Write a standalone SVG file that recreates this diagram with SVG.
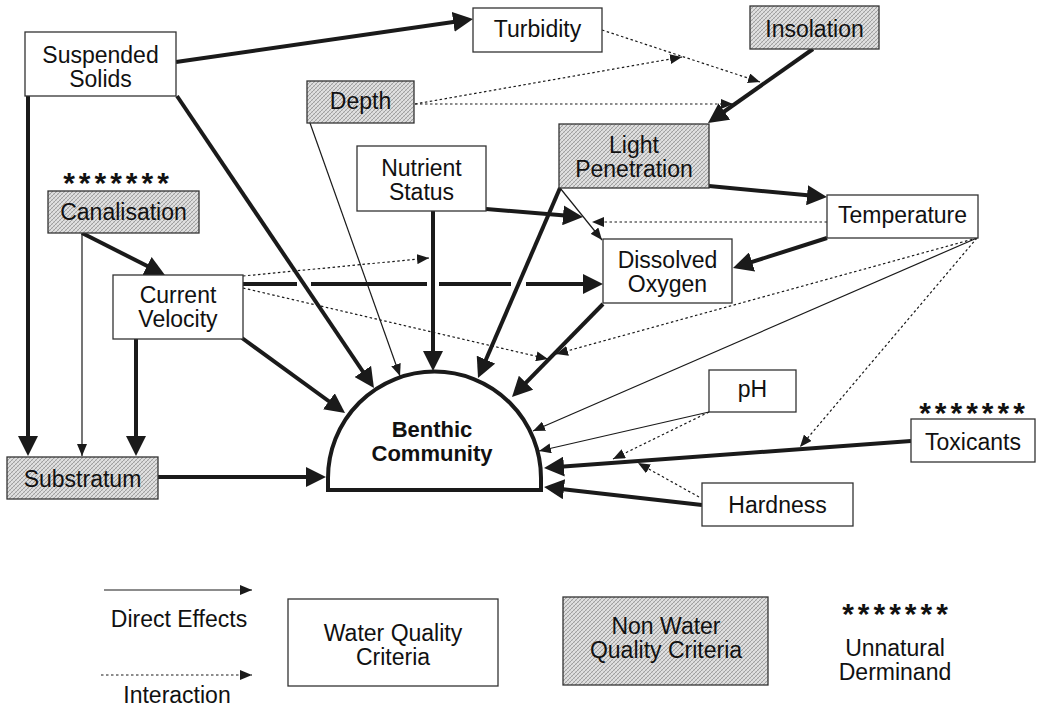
<svg xmlns="http://www.w3.org/2000/svg" width="1037" height="708" viewBox="0 0 1037 708">
<defs>
<style>
.box{fill:#fff;stroke:#333;stroke-width:1.3}
.shaded{fill:url(#stipple);stroke:#333;stroke-width:1.3}
.lbl{font-family:"Liberation Sans",Arial,Helvetica,sans-serif;font-size:23px;fill:#111;text-anchor:middle}
.bold{font-weight:bold;font-size:22px}
.leg{font-family:"Liberation Sans",Arial,Helvetica,sans-serif;font-size:23px;fill:#111;text-anchor:middle}
.stars{font-family:"Liberation Sans",Arial,sans-serif;font-size:30px;font-weight:bold;letter-spacing:4px;fill:#111;text-anchor:middle}
.thick{stroke:#1a1a1a;stroke-width:4;fill:none;marker-end:url(#ah)}
.thin{stroke:#1a1a1a;stroke-width:1.2;fill:none;marker-end:url(#as)}
.dot{stroke:#1a1a1a;stroke-width:1.2;fill:none;stroke-dasharray:2.5 2.5;marker-end:url(#as)}
</style>
<pattern id="stipple" width="4" height="4" patternUnits="userSpaceOnUse">
<rect width="4" height="4" fill="#e0e0e0"/>
<path d="M0,4 L4,0" stroke="#8f8f8f" stroke-width="0.8"/>
<path d="M0,0 L4,4" stroke="#bababa" stroke-width="0.5"/>
</pattern>
<marker id="ah" viewBox="0 0 20 20" refX="14" refY="10" markerWidth="20" markerHeight="20" markerUnits="userSpaceOnUse" orient="auto">
<path d="M0,0 L20,10 L0,20 Z" fill="#1a1a1a"/>
</marker>
<marker id="as" viewBox="0 0 12 10" refX="12" refY="5" markerWidth="12" markerHeight="10" markerUnits="userSpaceOnUse" orient="auto">
<path d="M0,0 L12,5 L0,10 Z" fill="#1a1a1a"/>
</marker>
</defs>
<rect width="1037" height="708" fill="#fff"/>

<g id="connectors">
<path class="thick" d="M176,62 L467.1,19.9"/>
<path class="thick" d="M28,96 L28,450"/>
<path class="thick" d="M177,96 L370.6,383"/>
<path class="thick" d="M242,338 L340.2,409.5"/>
<path class="thick" d="M433,211 L433,365"/>
<path class="thick" d="M560,188 L480.4,372.5"/>
<path class="thick" d="M603,304 L516.2,392.7"/>
<path class="thick" d="M911,441 L550,467.6"/>
<path class="thick" d="M702,505 L550,487.7"/>
<path class="thick" d="M158,477 L320,477"/>
<path class="thick" d="M82,233 L159.6,272.3"/>
<path class="thick" d="M136,339 L136,450"/>
<path class="thick" d="M243,284 H297 M311,284 H427 M439,284 H511 M526,284 H597"/>
<path class="thick" d="M827,238 L738.7,266.2"/>
<path class="thick" d="M709,186 L821,196.5"/>
<path class="thick" d="M813,49 L712.9,119.5"/>
<path class="thick" d="M486,209 L577,216.5"/>
<path class="thin" d="M82,233 L82,456"/>
<path class="thin" d="M310,123 L400,376"/>
<path class="thin" d="M560,188 L602,240"/>
<path class="thin" d="M977,238 L533,431"/>
<path class="thin" d="M709,412 L539,451"/>
<path class="dot" d="M602,30 L760,82"/>
<path class="dot" d="M415,104 L682,57"/>
<path class="dot" d="M415,104 L733,104"/>
<path class="dot" d="M827,222 L592,222"/>
<path class="dot" d="M243,276 L429,258"/>
<path class="dot" d="M243,288 L548,359"/>
<path class="dot" d="M977,238 L556,354"/>
<path class="dot" d="M977,238 L800,447"/>
<path class="dot" d="M709,412 L613,459"/>
<path class="dot" d="M699,497 L638,463"/>
</g>

<g id="suspended-solids"><rect class="box" x="25" y="32" width="151" height="64"/><text class="lbl" x="100.5" y="63">Suspended</text><text class="lbl" x="100.5" y="87">Solids</text></g>
<g id="turbidity"><rect class="box" x="473" y="8" width="129" height="44"/><text class="lbl" x="537.5" y="37">Turbidity</text></g>
<g id="insolation"><rect class="shaded" x="750" y="6" width="129" height="43"/><text class="lbl" x="814.5" y="37">Insolation</text></g>
<g id="depth"><rect class="shaded" x="307" y="81" width="107" height="42"/><text class="lbl" x="360.5" y="109">Depth</text></g>
<g id="light-penetration"><rect class="shaded" x="559" y="124" width="150" height="64"/><text class="lbl" x="634" y="153">Light</text><text class="lbl" x="634" y="177">Penetration</text></g>
<g id="nutrient-status"><rect class="box" x="357" y="146" width="129" height="65"/><text class="lbl" x="421.5" y="176">Nutrient</text><text class="lbl" x="421.5" y="200">Status</text></g>
<g id="canalisation"><text class="stars" x="118" y="193">*******</text><rect class="shaded" x="48" y="191" width="151" height="42"/><text class="lbl" x="123.5" y="220">Canalisation</text></g>
<g id="temperature"><rect class="box" x="827" y="195" width="151" height="43"/><text class="lbl" x="902.5" y="223">Temperature</text></g>
<g id="dissolved-oxygen"><rect class="box" x="603" y="239" width="129" height="64"/><text class="lbl" x="667.5" y="268">Dissolved</text><text class="lbl" x="667.5" y="292">Oxygen</text></g>
<g id="current-velocity"><rect class="box" x="113" y="275" width="130" height="64"/><text class="lbl" x="178" y="303">Current</text><text class="lbl" x="178" y="327">Velocity</text></g>
<g id="ph"><rect class="box" x="709" y="370" width="87" height="42"/><text class="lbl" x="752.5" y="397">pH</text></g>
<g id="toxicants"><text class="stars" x="974" y="423">*******</text><rect class="box" x="911" y="419" width="124" height="43"/><text class="lbl" x="973" y="450">Toxicants</text></g>
<g id="hardness"><rect class="box" x="702" y="483" width="151" height="43"/><text class="lbl" x="777.5" y="513">Hardness</text></g>
<g id="substratum"><rect class="shaded" x="7" y="457" width="151" height="42"/><text class="lbl" x="82.5" y="487">Substratum</text></g>
<g id="benthic-community"><path d="M328,490 L328,478 A106.5,106.5 0 0 1 541,478 L541,490 Z" fill="#fff" stroke="#1a1a1a" stroke-width="4"/><text class="lbl bold" x="432" y="437">Benthic</text><text class="lbl bold" x="432" y="461">Community</text></g>

<g id="legend">
<path class="thin" d="M104,590 L252,590"/>
<text class="leg" x="179" y="627">Direct Effects</text>
<path class="dot" d="M101,675 L252,675"/>
<text class="leg" x="177" y="703">Interaction</text>
<rect class="box" x="288" y="599" width="210" height="87"/>
<text class="leg" x="393" y="641">Water Quality</text>
<text class="leg" x="393" y="665">Criteria</text>
<rect class="shaded" x="563" y="597" width="205" height="88"/>
<text class="leg" x="666" y="634">Non Water</text>
<text class="leg" x="666" y="658">Quality Criteria</text>
<text class="stars" x="897" y="624">*******</text>
<text class="leg" x="895" y="656">Unnatural</text>
<text class="leg" x="895" y="680">Derminand</text>
</g>
</svg>
